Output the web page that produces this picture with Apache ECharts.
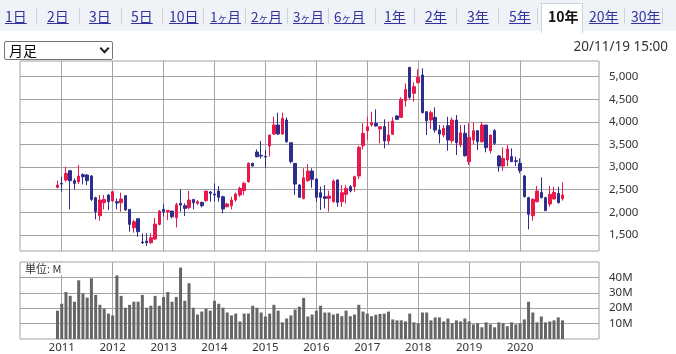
<!DOCTYPE html>
<html><head><meta charset="utf-8">
<script src="https://cdn.jsdelivr.net/npm/echarts@6/dist/echarts.min.js"></script>
<style>
html,body{margin:0;padding:0;width:676px;height:354px;overflow:hidden;background:#fff;font-family:"Noto Sans CJK JP","Noto Sans",sans-serif;}
#chart{position:absolute;left:0;top:0;width:676px;height:354px;}
#tabs{position:absolute;left:0;top:0;width:676px;height:31px;background:#eff2f7;}
.tab{position:absolute;top:6px;font-size:14px;line-height:20px;color:#33339f;text-decoration:underline;white-space:nowrap;}
.tab.m{font-size:13.5px;}
.tab .k{font-size:10px;}
.sep{position:absolute;top:8px;width:1px;height:16px;background:#cdd1d9;}
#active{position:absolute;left:541px;top:3px;width:40px;height:29px;background:#fff;border:1px solid #d0d4dc;border-bottom:none;}
#act{position:absolute;left:548px;top:6px;font-size:14px;line-height:20px;font-weight:bold;color:#111;white-space:nowrap;}
#sel{position:absolute;left:4px;top:41px;width:107px;height:17px;border:1px solid #767676;border-radius:2px;background:#fff;}
#sel span{position:absolute;left:4px;top:-2px;font-size:14px;line-height:20px;color:#000;}
#sel i{position:absolute;left:96px;top:3px;width:5px;height:5px;border-right:2px solid #222;border-bottom:2px solid #222;transform:rotate(45deg);}
#date{position:absolute;right:8px;top:37px;font-family:"Noto Sans",sans-serif;font-size:13.5px;line-height:18px;color:#333;}
</style>
</head><body>
<div id="chart"></div>
<div id="tabs">
  <span class="tab" style="left:5px">1日</span><span class="sep" style="left:36px"></span>
  <span class="tab" style="left:47px">2日</span><span class="sep" style="left:79px"></span>
  <span class="tab" style="left:89px">3日</span><span class="sep" style="left:121px"></span>
  <span class="tab" style="left:131px">5日</span><span class="sep" style="left:162px"></span>
  <span class="tab" style="left:169px">10日</span><span class="sep" style="left:203px"></span>
  <span class="tab m" style="left:210px">1<span class="k">ヶ</span>月</span><span class="sep" style="left:245px"></span>
  <span class="tab m" style="left:251px">2<span class="k">ヶ</span>月</span><span class="sep" style="left:287px"></span>
  <span class="tab m" style="left:293px">3<span class="k">ヶ</span>月</span><span class="sep" style="left:328px"></span>
  <span class="tab m" style="left:334px">6<span class="k">ヶ</span>月</span><span class="sep" style="left:375px"></span>
  <span class="tab" style="left:384px">1年</span><span class="sep" style="left:414px"></span>
  <span class="tab" style="left:425px">2年</span><span class="sep" style="left:456px"></span>
  <span class="tab" style="left:467px">3年</span><span class="sep" style="left:498px"></span>
  <span class="tab" style="left:509px">5年</span><span class="sep" style="left:537px"></span>
  <div id="active"></div><span id="act">10年</span>
  <span class="tab" style="left:589px">20年</span><span class="sep" style="left:624px"></span>
  <span class="tab" style="left:631px">30年</span><span class="sep" style="left:662px"></span>
</div>
<div id="sel"><span>月足</span><i></i></div>
<div id="date">20/11/19 15:00</div>
<script>
// ---- data ----
const startYear = 2010, startMonth = 12, monthCount = 120;
const months = [];
for (let k = 0; k < monthCount; k++) {
  const t = startMonth - 1 + k;
  months.push((startYear + Math.floor(t / 12)) + '/' + String(t % 12 + 1).padStart(2, '0'));
}
const openP = [2553,2641,2715,2921,2700,2678,2833,2825,2803,2324,1926,2214,2383,2251,2236,2214,2368,2066,1661,1860,
1344,1366,1329,1410,1735,2066,2015,2030,1882,2199,2147,2103,2287,2199,2221,2258,2450,2405,2472,2346,
2125,2147,2273,2383,2479,2678,3083,3334,3260,3238,3467,3732,3931,3732,4041,3540,3083,2604,2309,2700,
2914,2737,2435,2346,2309,2236,2715,2236,2398,2567,2567,2803,3474,3806,3931,3968,3843,3894,3577,3725,
4130,4100,4469,5206,4631,4867,5036,4226,4041,4100,3820,3710,3916,3584,4041,3489,3747,3120,3599,3806,
3562,3931,3364,3806,3246,3024,3157,3231,3142,3083,2803,2324,1926,2236,2442,2324,2184,2295,2420,2302];
const closeP = [2604,2626,2862,2700,2641,2803,2789,2700,2287,2015,2273,2287,2236,2457,2206,2295,2052,1735,1793,1572,
1329,1329,1440,1742,2030,2015,2044,1904,2170,2162,2088,2273,2214,2236,2147,2472,2420,2383,2332,2074,
2184,2273,2405,2531,2641,3083,3024,3231,3245,3223,3710,3931,3732,4078,3562,3120,2626,2332,2766,2914,
2730,2332,2332,2309,2361,2693,2221,2435,2531,2472,2789,3437,3747,3894,3982,3909,3894,3577,3710,4019,
4056,4499,4720,4543,4778,4985,4204,4027,4204,3820,3732,3857,3599,4041,3540,3761,3253,3658,3806,3562,
3931,3430,3710,3526,3024,3194,3400,3120,3127,2921,2346,1956,2288,2472,2324,2037,2398,2442,2214,2383];
const lowP = [2531,2457,2678,2066,2508,2626,2619,2604,2250,1845,1816,2066,2052,2236,2066,2015,2037,1572,1550,1462,
1300,1256,1307,1388,1713,1904,1830,1867,1668,2015,1919,2066,2066,2162,2110,2236,2236,2236,2236,1978,
2110,2066,2236,2346,2383,2656,3010,3216,3194,2988,3231,3710,3710,3710,3540,3083,2383,2332,2287,2678,
2545,2236,2052,2088,2015,2214,2125,2125,2199,2442,2457,2737,3393,3599,3894,3894,3526,3415,3489,3710,
4041,4100,4336,4499,4447,4852,4189,3710,3843,3762,3526,3658,3363,3526,3268,3437,3231,3047,3511,3378,
3540,3327,3304,3489,2899,2921,3024,3120,3024,2862,2332,1624,1816,2221,2309,2037,2125,2287,2199,2258];
const highP = [2700,2789,3010,2936,2752,3046,2862,2847,2825,2346,2383,2383,2405,2457,2309,2435,2383,2066,1830,1860,
1536,1536,1536,1875,2052,2184,2052,2030,2214,2508,2199,2472,2287,2273,2236,2472,2472,2641,2582,2368,
2214,2346,2435,2567,2678,3105,3098,3393,3577,3378,3710,4115,4204,4204,4100,3540,3083,2626,2973,3069,
2973,2752,2567,2604,2479,2730,2730,2604,2604,2604,2811,3474,3968,4115,4226,4277,3894,4056,4004,4100,
4152,4543,4852,5206,4874,5162,5184,4226,4248,4321,3931,3931,4115,4100,4152,3931,3931,3968,3990,3820,
4004,3931,3710,3843,3268,3437,3489,3415,3231,3194,2825,2346,2309,2582,2774,2346,2582,2567,2567,2663];
const volumeM = [18.4,22.9,30.5,28,24.2,38.1,29.7,26.9,39.4,28.6,22.2,19.7,16.5,15.3,41.3,28,20.3,22.2,24.2,24.2,
28.6,20.3,21.6,28,21.6,27.3,30.5,24.2,27.3,46.4,24.8,36.2,20.3,15.9,17.8,19.7,18.4,24.8,22.9,20.3,
17.2,15.3,16.5,11.4,16.5,16.5,21.6,20.3,17.2,14.6,16.5,22.2,18.4,10.8,13.3,15.3,19.1,21,26.7,14.6,
15.9,18.4,21.6,17.2,17.2,15.9,16.5,14.8,18.4,14.8,15.9,22.2,17.8,16.5,14.8,15.7,16.3,16.5,17.8,12.7,
12.1,12.1,11.4,16.5,10.8,10.2,17.2,17.2,12.1,14,14,11.4,13.3,10.2,12.1,11.4,13.3,11.4,9.5,10.2,
7.6,10.8,9.5,7.6,10.8,10.2,8.3,10.8,9.5,10.2,12.7,24.2,17.2,10.8,14.6,10.8,11.4,12.1,14,12.1];
const yearLabels = ['2011','2012','2013','2014','2015','2016','2017','2018','2019','2020'];
const priceTicks = [1500,2000,2500,3000,3500,4000,4500,5000];
const volumeTicks = [10,20,30,40];

// ---- build ----
const baseYear = Number(yearLabels[0]);
const monthPos = m => { const p = m.split('/'); return (Number(p[0]) - baseYear) * 12 + Number(p[1]) - 1; };
const xs = months.map(monthPos);
const yearPos = yearLabels.map(y => monthPos(y + '/01'));
const candleData = months.map((m, k) => [xs[k], openP[k], closeP[k], lowP[k], highP[k]]);
const volData = months.map((m, k) => [xs[k], volumeM[k]]);
const xMin = -9.83, xMax = 126.6;
const gridColor = '#a3a3a3';
const up = '#e8194b', down = '#2d2d8f';
const font = '"Noto Sans", sans-serif';

const chart = echarts.init(document.getElementById('chart'), null, {renderer: 'canvas'});
chart.setOption({
  animation: false,
  textStyle: {fontFamily: font},
  grid: [
    {left: 20, top: 61, width: 579, height: 190, show: true, borderColor: gridColor, borderWidth: 1, backgroundColor: 'transparent'},
    {left: 20, top: 262, width: 579, height: 79, show: true, borderColor: gridColor, borderWidth: 1, backgroundColor: 'transparent'}
  ],
  xAxis: [
    {type: 'value', gridIndex: 0, min: xMin, max: xMax, axisLine: {show: false},
     axisTick: {show: false, customValues: yearPos}, axisLabel: {show: false, customValues: yearPos},
     splitLine: {show: true, lineStyle: {color: gridColor, width: 1}}},
    {type: 'value', gridIndex: 1, min: xMin, max: xMax, axisLine: {show: false},
     axisTick: {show: false, customValues: yearPos},
     axisLabel: {show: true, customValues: yearPos, margin: 3, color: '#333', fontSize: 11.5, fontFamily: font,
       formatter: v => yearLabels[yearPos.indexOf(Math.round(v))] || ''},
     splitLine: {show: true, lineStyle: {color: gridColor, width: 1}}}
  ],
  yAxis: [
    {type: 'value', gridIndex: 0, position: 'right', min: 1146, max: 5346, splitNumber: 8, scale: true,
     axisLine: {show: false},
     axisTick: {show: true, inside: false, length: 4, lineStyle: {color: gridColor}, customValues: priceTicks},
     axisLabel: {customValues: priceTicks, margin: 10, color: '#333', fontSize: 11.5, fontFamily: font,
       formatter: v => Number(v).toLocaleString('en-US')},
     splitLine: {show: true, lineStyle: {color: gridColor, width: 1}}},
    {type: 'value', gridIndex: 1, position: 'right', min: 0, max: 50, interval: 10,
     axisLine: {show: false},
     axisTick: {show: true, inside: false, length: 4, lineStyle: {color: gridColor}, customValues: volumeTicks},
     axisLabel: {customValues: volumeTicks, margin: 10, color: '#333', fontSize: 11.5, fontFamily: font,
       formatter: v => v + 'M'},
     splitLine: {show: true, lineStyle: {color: gridColor, width: 1}}}
  ],
  graphic: [
    {type: 'text', left: 24, top: 263, z: 100,
     style: {text: '単位: M', fontSize: 11, fontFamily: '"Noto Sans CJK JP", sans-serif', fill: '#333',
       backgroundColor: '#fff', padding: [0, 1, 0, 1], lineHeight: 12}}
  ],
  series: [
    {type: 'candlestick', xAxisIndex: 0, yAxisIndex: 0, barWidth: 3, data: candleData,
     itemStyle: {color: up, color0: down, borderColor: up, borderColor0: down, borderWidth: 1}},
    {type: 'bar', xAxisIndex: 1, yAxisIndex: 1, barWidth: 3, data: volData,
     itemStyle: {color: '#666666'}}
  ]
});
</script>
</body></html>
